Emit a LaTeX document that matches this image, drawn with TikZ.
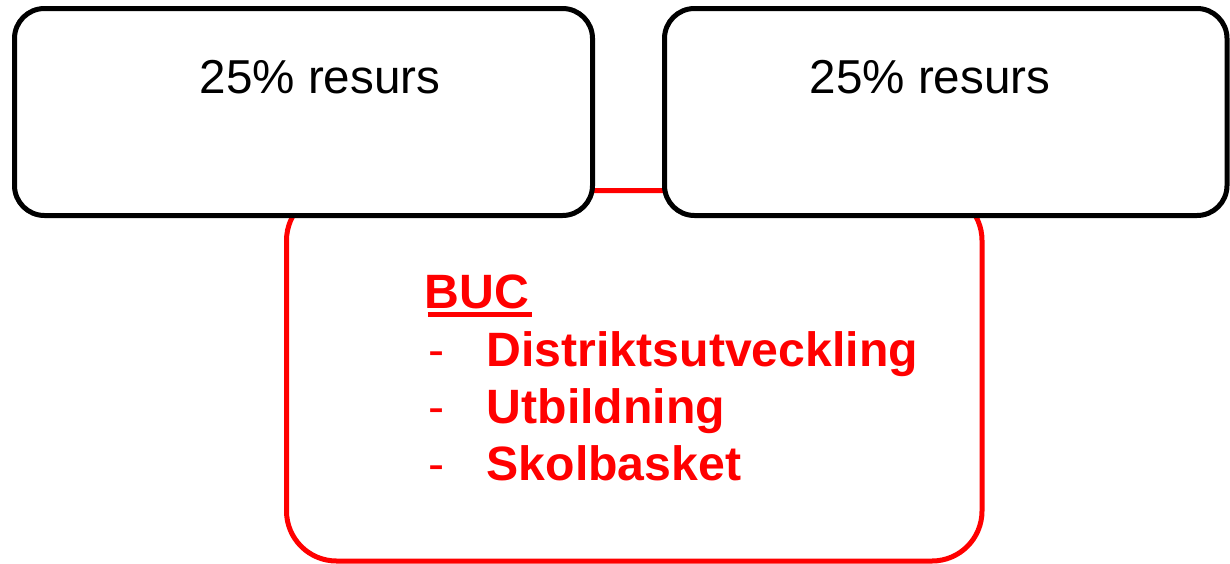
\documentclass[tikz,border=0pt]{standalone}
\usepackage{fontspec}
\setmainfont{Liberation Sans}
\definecolor{bucred}{RGB}{255,0,0}
\begin{document}
\begin{tikzpicture}[x=1pt,y=-1pt,
  blackbox/.style={draw=black, line width=5pt, fill=white, rounded corners=30pt, inner sep=0pt},
  redbox/.style={draw=bucred, line width=5pt, fill=white, rounded corners=50pt, inner sep=0pt},
  plaintext/.style={font=\fontsize{47.6}{47.6}\selectfont, anchor=base west, inner sep=0pt, text=black},
  redtext/.style={font=\fontsize{48.2}{48.2}\selectfont\bfseries, anchor=base west, inner sep=0pt, text=bucred},
  dashtext/.style={font=\fontsize{48.2}{48.2}\selectfont, anchor=base west, inner sep=0pt, text=bucred}]
\useasboundingbox (0,0) rectangle (1230,563);
% red box behind
\node[redbox, minimum width=695.5pt, minimum height=370.5pt] (buc box) at (634.25,375.75) {};
% black boxes
\node[blackbox, minimum width=578pt, minimum height=207pt] (left box) at (303.5,112) {};
\node[blackbox, minimum width=562.5pt, minimum height=207pt] (right box) at (945.75,112) {};
% texts
\node[plaintext] (left text) at (199.5,93) {25\% resurs};
\node[plaintext] (right text) at (809.5,93) {25\% resurs};
\node[redtext] (buc) at (424.5,308) {BUC};
\draw[bucred, line width=5pt] ([xshift=3pt,yshift=-6.5pt]buc.base west) -- ([xshift=3pt,yshift=-6.5pt]buc.base east);
\node[dashtext] (d1) at (428,366) {-};
\node[dashtext] (d2) at (428,423) {-};
\node[dashtext] (d3) at (428,480) {-};
\node[redtext] (item1) at (486.5,366) {Distriktsutveckling};
\node[redtext] (item2) at (486.5,423) {Utbildning};
\node[redtext] (item3) at (486.5,480) {Skolbasket};
\end{tikzpicture}
\end{document}
